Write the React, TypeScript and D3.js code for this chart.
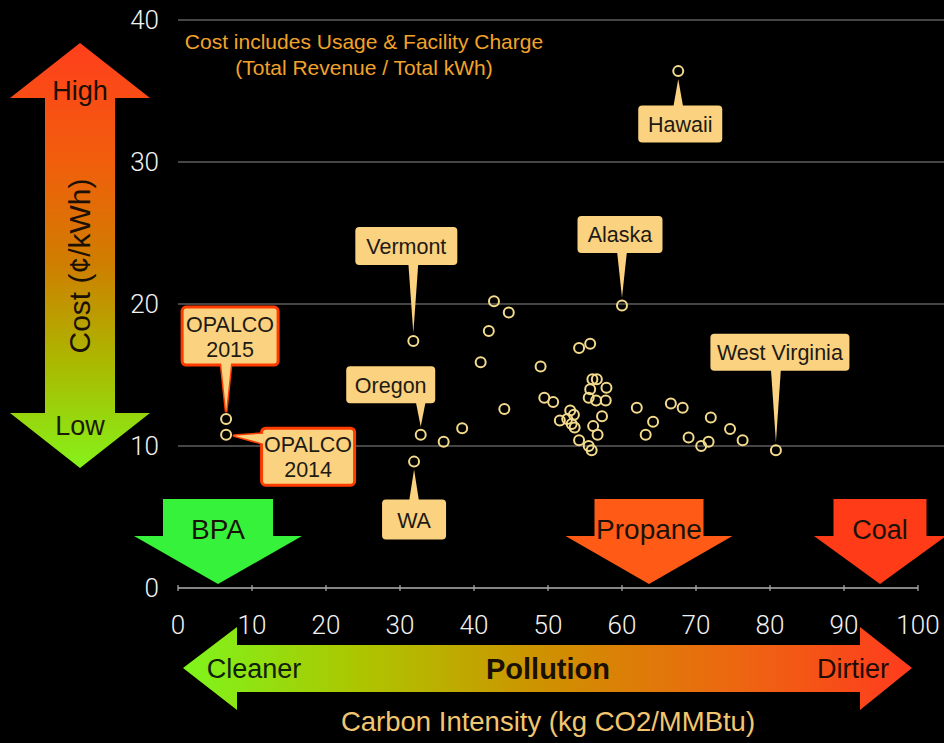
import React, { useEffect } from 'react';
import * as d3 from 'd3';

// carbon intensity (kg CO2/MMBtu) vs cost (¢/kWh)
const labeledPoints = [
  { name: 'OPALCO 2015', x: 6.5, y: 11.9 },
  { name: 'OPALCO 2014', x: 6.5, y: 10.8 },
  { name: 'Vermont', x: 31.8, y: 17.4 },
  { name: 'Oregon', x: 32.8, y: 10.8 },
  { name: 'WA', x: 31.9, y: 8.9 },
  { name: 'Alaska', x: 60.0, y: 19.9 },
  { name: 'Hawaii', x: 67.6, y: 36.4 },
  { name: 'West Virginia', x: 80.8, y: 9.7 },
];

const otherX = [
  35.9, 38.4, 40.9, 42.0, 42.7, 44.7, 44.1, 49.0, 49.5, 50.7,
  51.6, 53.0, 53.5, 52.6, 53.2, 53.6, 54.2, 55.7, 54.2, 55.5,
  55.9, 56.0, 56.6, 55.7, 57.9, 55.5, 56.5, 57.8, 57.3, 56.1,
  56.7, 62.0, 64.2, 63.2, 66.6, 68.2, 69.0, 70.7, 71.7, 72.0,
  74.6, 76.3,
];
const otherY = [
  10.3, 11.25, 15.9, 18.1, 20.2, 19.4, 12.6, 15.6, 13.4, 13.1,
  11.8, 12.5, 12.2, 11.9, 11.55, 11.3, 16.9, 17.2, 10.4, 10.0,
  9.7, 14.7, 14.7, 14.0, 14.1, 13.4, 13.2, 13.2, 12.1, 11.4,
  10.8, 12.7, 11.7, 10.8, 13.0, 12.7, 10.6, 10.0, 10.3, 12.0,
  11.2, 10.4,
];

const xTicks = [0, 10, 20, 30, 40, 50, 60, 70, 80, 90, 100];
const yTicks = [0, 10, 20, 30, 40];
const gridValues = [10, 20, 30, 40];

// callout layout: pixel offsets of the box centre from its point
const callouts: Record<string, { dx: number; dy: number; w: number; h: number; side: string; hot?: boolean; lines: string[] }> = {
  'OPALCO 2015': { dx: 4, dy: -83, w: 96, h: 58, side: 'bottom', hot: true, lines: ['OPALCO', '2015'] },
  'OPALCO 2014': { dx: 82, dy: 22, w: 93, h: 57, side: 'left', hot: true, lines: ['OPALCO', '2014'] },
  Vermont: { dx: -7, dy: -95, w: 102, h: 38, side: 'bottom', lines: ['Vermont'] },
  Oregon: { dx: -30, dy: -50, w: 89, h: 37, side: 'bottom', lines: ['Oregon'] },
  WA: { dx: 0, dy: 58, w: 64, h: 40, side: 'top', lines: ['WA'] },
  Alaska: { dx: -2, dy: -71, w: 85, h: 37, side: 'bottom', lines: ['Alaska'] },
  Hawaii: { dx: 2, dy: 53, w: 84, h: 37, side: 'top', lines: ['Hawaii'] },
  'West Virginia': { dx: 4, dy: -98, w: 139, h: 37, side: 'bottom', lines: ['West Virginia'] },
};

const W = 944;
const H = 743;
const FONT = "'Liberation Sans', Arial, Helvetica, sans-serif";
const LIGHT = "Roboto, 'Liberation Sans', sans-serif";
const BOX_FILL = '#fbd27f';

const x = d3.scaleLinear().domain([0, 100]).range([178, 918]);
const y = d3.scaleLinear().domain([0, 40]).range([588, 20]);

function pointerPath(px: number, py: number, bx: number, by: number, w: number, h: number, side: string) {
  const gap = 8;
  const half = 5;
  if (side === 'bottom') {
    const edge = by + h / 2;
    return `M${px - half},${edge - 2}L${px + half},${edge - 2}L${px},${py - gap}Z`;
  }
  if (side === 'top') {
    const edge = by - h / 2;
    return `M${px - half},${edge + 2}L${px + half},${edge + 2}L${px},${py + gap}Z`;
  }
  const edge = bx - w / 2;
  const cy = py + 4;
  return `M${edge + 2},${cy - half}L${edge + 2},${cy + half}L${px + gap},${py + 1}Z`;
}

const Callout: React.FC<{ name: string; px: number; py: number }> = ({ name, px, py }) => {
  const c = callouts[name];
  const bx = px + c.dx;
  const by = py + c.dy;
  const tri = pointerPath(px, py, bx, by, c.w, c.h, c.side);
  const lh = 25;
  const startY = by - ((c.lines.length - 1) * lh) / 2 + 8;
  return (
    <g>
      {c.hot && <path d={tri} fill={BOX_FILL} stroke="#ff3c00" strokeWidth={3} strokeLinejoin="round" />}
      <rect
        x={bx - c.w / 2}
        y={by - c.h / 2}
        width={c.w}
        height={c.h}
        rx={4}
        fill={BOX_FILL}
        stroke={c.hot ? '#ff3c00' : 'none'}
        strokeWidth={c.hot ? 3 : 0}
      />
      <path d={tri} fill={BOX_FILL} />
      {c.lines.map((t, i) => (
        <text
          key={t}
          x={bx}
          y={startY + i * lh}
          textAnchor="middle"
          fontFamily={FONT}
          fontSize={21.5}
          fill="#1e1a14"
        >
          {t}
        </text>
      ))}
    </g>
  );
};

const DownArrow: React.FC<{ cx: number; fill: string; label: string; shaftW: number; headW: number; size: number }> = ({ cx, fill, label, shaftW, headW, size }) => {
  const top = 499;
  const base = 536;
  const tip = 584;
  const d = `M${cx - shaftW / 2},${top}H${cx + shaftW / 2}V${base}H${cx + headW / 2}L${cx},${tip}L${cx - headW / 2},${base}H${cx - shaftW / 2}Z`;
  return (
    <g>
      <path d={d} fill={fill} />
      <text x={cx} y={539} textAnchor="middle" fontFamily={FONT} fontSize={size} fill="#1a1208">
        {label}
      </text>
    </g>
  );
};

export default function App() {
  useEffect(() => {
    document.body.style.margin = '0';
    document.body.style.background = '#000';
  }, []);

  const others = otherX.map((v, i) => ({ x: v, y: otherY[i] }));
  const allPoints = [...others, ...labeledPoints];

  // cost arrow (vertical, left)
  const vArrow = 'M45,98H10L80,43L150,98H115V413H150L80,468L10,413H45Z';
  // pollution arrow (horizontal, bottom)
  const hArrow = 'M237,645V627L183,668L237,710V692H860V710L912,668L860,627V645Z';

  return (
    <svg width={W} height={H} style={{ display: 'block', background: '#000' }}>
      <defs>
        <linearGradient id="costGrad" x1="0" y1="0" x2="0" y2="1">
          <stop offset="0" stopColor="#ff3f1c" />
          <stop offset="0.28" stopColor="#f15e0c" />
          <stop offset="0.52" stopColor="#cf7e00" />
          <stop offset="0.75" stopColor="#abb800" />
          <stop offset="1" stopColor="#86f21a" />
        </linearGradient>
        <linearGradient id="polGrad" x1="0" y1="0" x2="1" y2="0">
          <stop offset="0" stopColor="#7ef51c" />
          <stop offset="0.25" stopColor="#aec400" />
          <stop offset="0.5" stopColor="#cf9000" />
          <stop offset="0.75" stopColor="#ec6810" />
          <stop offset="1" stopColor="#ff3b1e" />
        </linearGradient>
      </defs>

      {/* grid */}
      {gridValues.map(v => (
        <line key={v} x1={x(0)} x2={W} y1={y(v)} y2={y(v)} stroke="#8a8a8a" strokeWidth={1.2} />
      ))}

      {/* x axis */}
      <line x1={x(0)} x2={x(100)} y1={y(0)} y2={y(0)} stroke="#b0b0b0" strokeWidth={1.5} />
      {xTicks.map(t => (
        <line key={t} x1={x(t)} x2={x(t)} y1={y(0) - 3} y2={y(0) + 3} stroke="#b0b0b0" strokeWidth={1.2} />
      ))}

      {/* y tick labels */}
      {yTicks.map(t => (
        <text key={t} x={159} y={y(t) + 9} textAnchor="end" fontFamily={LIGHT} fontWeight={300} fontSize={26} fill="#f2f2f2">
          {t}
        </text>
      ))}

      {/* note */}
      <text x={364} y={49} textAnchor="middle" fontFamily={FONT} fontSize={21} fill="#f2a32a">
        Cost includes Usage &amp; Facility Charge
      </text>
      <text x={364} y={75} textAnchor="middle" fontFamily={FONT} fontSize={21} fill="#f2a32a">
        (Total Revenue / Total kWh)
      </text>

      {/* cost arrow */}
      <path d={vArrow} fill="url(#costGrad)" />
      <text x={80} y={100} textAnchor="middle" fontFamily={FONT} fontSize={27} fill="#1a0d05">High</text>
      <text x={80} y={435} textAnchor="middle" fontFamily={FONT} fontSize={27} fill="#1a1a05">Low</text>
      <text
        transform="translate(90,266) rotate(-90)"
        textAnchor="middle"
        fontFamily={FONT}
        fontSize={30}
        fill="#1a1005"
      >
        Cost (¢/kWh)
      </text>

      {/* source arrows */}
      <DownArrow cx={218} fill="#36f23a" label="BPA" shaftW={110} headW={168} size={28} />
      <DownArrow cx={649} fill="#ff5b17" label="Propane" shaftW={109} headW={167} size={28} />
      <DownArrow cx={880} fill="#ff3b18" label="Coal" shaftW={93} headW={132} size={27} />

      {/* x tick labels */}
      {xTicks.map(t => (
        <text key={t} x={x(t)} y={634} textAnchor="middle" fontFamily={LIGHT} fontWeight={300} fontSize={26} fill="#f2f2f2">
          {t}
        </text>
      ))}

      {/* pollution arrow */}
      <path d={hArrow} fill="url(#polGrad)" />
      <text x={254} y={678} textAnchor="middle" fontFamily={FONT} fontSize={27} fill="#10200a">Cleaner</text>
      <text x={548} y={679} textAnchor="middle" fontFamily={FONT} fontWeight="bold" fontSize={29} fill="#1a1005">Pollution</text>
      <text x={853} y={678} textAnchor="middle" fontFamily={FONT} fontSize={27} fill="#200a05">Dirtier</text>
      <text x={548} y={731} textAnchor="middle" fontFamily={FONT} fontSize={27.5} fill="#f2c670">
        Carbon Intensity (kg CO2/MMBtu)
      </text>

      {/* points */}
      {allPoints.map((p, i) => (
        <circle key={i} cx={x(p.x)} cy={y(p.y)} r={5} fill="none" stroke="#f3da8c" strokeWidth={2} />
      ))}

      {/* callouts */}
      {labeledPoints.map(p => (
        <Callout key={p.name} name={p.name} px={x(p.x)} py={y(p.y)} />
      ))}
    </svg>
  );
}
